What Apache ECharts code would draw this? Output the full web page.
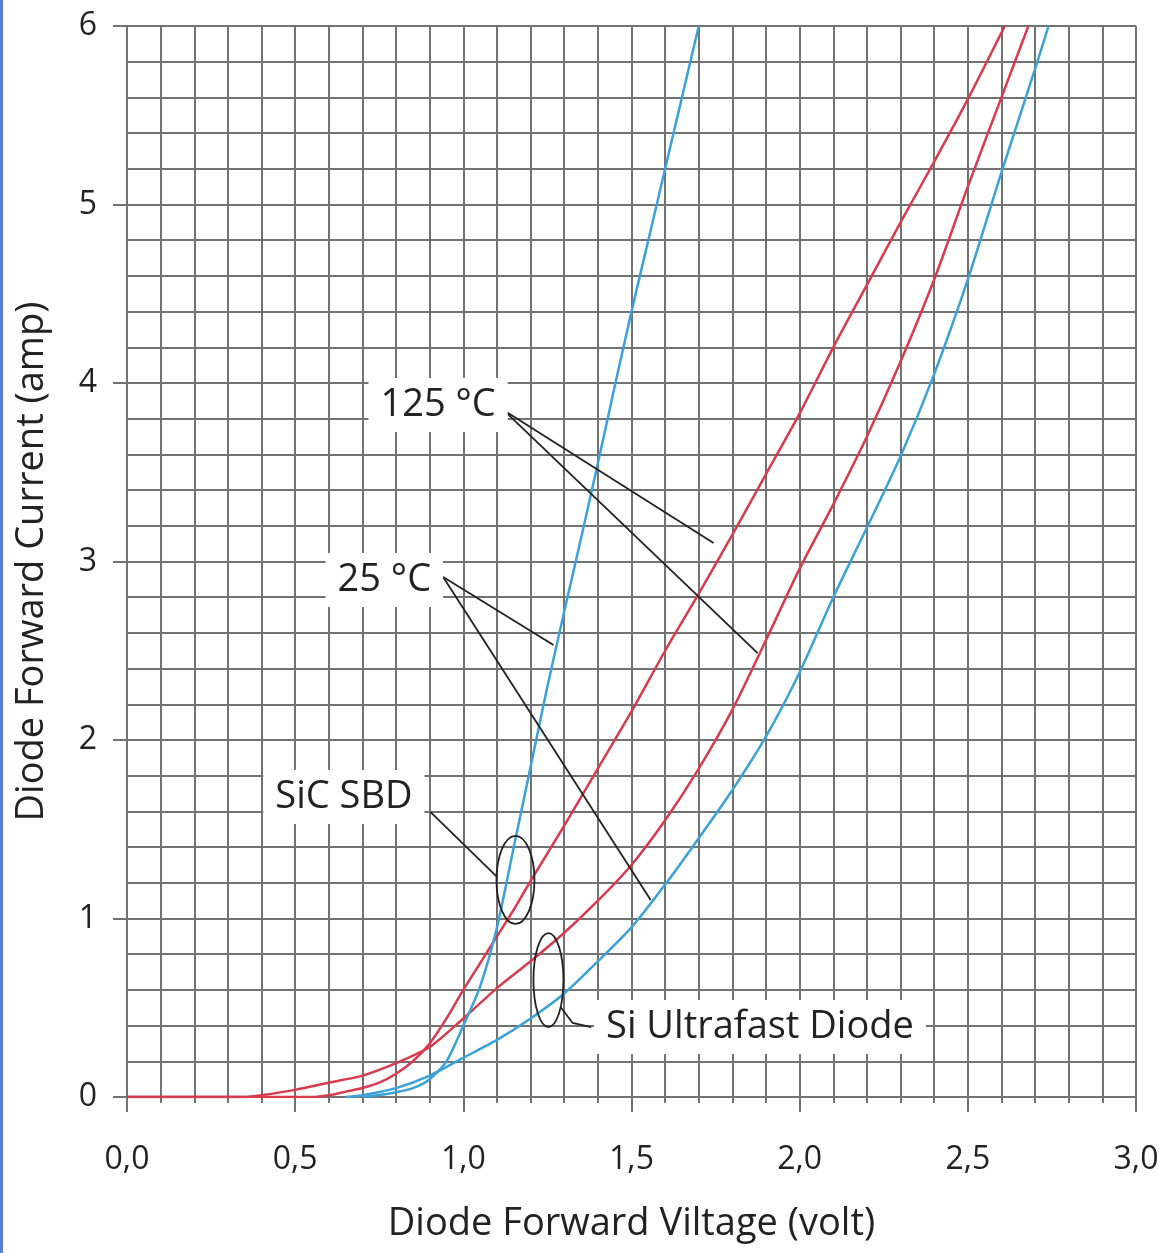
<!DOCTYPE html>
<html>
<head>
<meta charset="utf-8">
<script src="https://cdn.jsdelivr.net/npm/echarts@6/dist/echarts.min.js"></script>
<style>
  html, body { margin: 0; padding: 0; background: #fff; }
  #box { width: 1171px; height: 1253px; }
</style>
</head>
<body>
<div id="box"></div>
<script>
// SiC SBD, 25 °C (blue)
var sic25V = [0.70, 0.78, 0.85, 0.90, 0.95, 1.00, 1.05, 1.10, 1.15, 1.20, 1.25, 1.30, 1.35, 1.40, 1.45, 1.50, 1.55, 1.60, 1.65, 1.70];
var sic25I = [0, 0.02, 0.05, 0.10, 0.20, 0.40, 0.62, 0.95, 1.40, 1.85, 2.30, 2.72, 3.13, 3.55, 3.98, 4.40, 4.80, 5.20, 5.60, 6.0];
// SiC SBD, 125 °C (red)
var sic125V = [0, 0.55, 0.60, 0.65, 0.70, 0.75, 0.80, 0.85, 0.90, 0.95, 1.00, 1.05, 1.10, 1.15, 1.20, 1.30, 1.40, 1.50, 1.60, 1.70, 1.80, 1.90, 2.00, 2.10, 2.20, 2.30, 2.40, 2.50, 2.61];
var sic125I = [0, 0, 0.01, 0.03, 0.05, 0.08, 0.13, 0.20, 0.30, 0.44, 0.60, 0.75, 0.90, 1.05, 1.21, 1.52, 1.84, 2.16, 2.50, 2.82, 3.15, 3.49, 3.83, 4.20, 4.55, 4.90, 5.24, 5.59, 6.0];
// Si ultrafast, 125 °C (red)
var si125V = [0, 0.35, 0.40, 0.50, 0.60, 0.70, 0.80, 0.90, 1.00, 1.10, 1.20, 1.30, 1.40, 1.50, 1.60, 1.70, 1.80, 1.90, 2.00, 2.10, 2.20, 2.30, 2.40, 2.50, 2.60, 2.68];
var si125I = [0, 0, 0.01, 0.04, 0.08, 0.12, 0.19, 0.28, 0.44, 0.61, 0.76, 0.92, 1.10, 1.30, 1.55, 1.84, 2.17, 2.56, 2.96, 3.32, 3.70, 4.12, 4.58, 5.10, 5.60, 6.0];
// Si ultrafast, 25 °C (blue)
var si25V = [0.65, 0.70, 0.80, 0.90, 1.00, 1.10, 1.20, 1.30, 1.40, 1.50, 1.60, 1.70, 1.80, 1.90, 2.00, 2.10, 2.20, 2.30, 2.40, 2.50, 2.60, 2.70, 2.74];
var si25I = [0, 0.01, 0.05, 0.12, 0.22, 0.32, 0.44, 0.58, 0.76, 0.95, 1.19, 1.45, 1.72, 2.02, 2.38, 2.80, 3.19, 3.59, 4.05, 4.58, 5.18, 5.76, 6.0];

// annotation texts and where they sit (in volt / amp)
var labelTexts = ['125 °C', '25 °C', 'SiC SBD', 'Si Ultrafast Diode'];
var labelAt = [[0.925, 3.877], [0.765, 2.896], [0.645, 1.68], [1.882, 0.392]];
// leader lines
var leaders = [
  [[1.119, 3.849], [1.744, 3.104]],
  [[1.119, 3.849], [1.875, 2.487]],
  [[0.940, 2.913], [1.268, 2.532]],
  [[0.940, 2.913], [1.557, 1.104]],
  [[0.902, 1.597], [1.101, 1.232]],
  [[1.289, 0.504], [1.325, 0.415], [1.380, 0.392]]
];
// ellipse centres
var ringAt = [[1.155, 1.216], [1.253, 0.655]];

function pairs(xs, ys) {
  var out = [];
  for (var i = 0; i < xs.length; i++) out.push([xs[i], ys[i]]);
  return out;
}

var RED = '#d83a4e';
var BLUE = '#3aa2d8';
var GRID = '#727272';
var FONT = 'Open Sans';
var INK = '#222';

function curve(name, xs, ys, color) {
  return {
    name: name,
    type: 'line',
    data: pairs(xs, ys),
    symbol: 'none',
    smooth: 0.25,
    lineStyle: { color: color, width: 2.5 },
    z: 3
  };
}

var labelData = [];
for (var i = 0; i < labelTexts.length; i++) {
  labelData.push({ name: labelTexts[i], value: labelAt[i] });
}

var myChart = echarts.init(document.getElementById('box'));
var option = {
  backgroundColor: '#fff',
  animation: false,
  grid: { left: 127, right: 35, top: 26, bottom: 156, outerBoundsMode: 'none', containLabel: false },
  xAxis: {
    type: 'value',
    min: 0, max: 3, interval: 0.5,
    name: 'Diode Forward Viltage (volt)',
    nameLocation: 'middle',
    nameGap: 108,
    nameMoveOverlap: false,
    nameTextStyle: { fontFamily: FONT, fontSize: 38, color: INK },
    axisLine: { show: true, lineStyle: { color: GRID, width: 2 } },
    axisTick: { show: true, length: 15, lineStyle: { color: GRID, width: 2 } },
    minorTick: { show: true, splitNumber: 5, length: 6, lineStyle: { color: GRID, width: 2 } },
    axisLabel: {
      margin: 47, fontFamily: FONT, fontSize: 32, color: INK,
      formatter: function (v) { return v.toFixed(1).replace('.', ','); }
    },
    splitLine: { show: true, lineStyle: { color: GRID, width: 2 } },
    minorSplitLine: { show: true, lineStyle: { color: GRID, width: 2 } }
  },
  yAxis: {
    type: 'value',
    min: 0, max: 6, interval: 1,
    name: 'Diode Forward Current (amp)',
    nameLocation: 'middle',
    nameGap: 76,
    nameMoveOverlap: false,
    nameTextStyle: { fontFamily: FONT, fontSize: 38, color: INK },
    axisLine: { show: true, lineStyle: { color: GRID, width: 2 } },
    axisTick: { show: true, length: 14, lineStyle: { color: GRID, width: 2 } },
    minorTick: { show: false, splitNumber: 5 },
    axisLabel: { margin: 30, fontFamily: FONT, fontSize: 32, color: INK },
    splitLine: { show: true, lineStyle: { color: GRID, width: 2 } },
    minorSplitLine: { show: true, lineStyle: { color: GRID, width: 2 } }
  },
  series: [
    curve('SiC SBD 125 °C', sic125V, sic125I, RED),
    curve('Si 125 °C', si125V, si125I, RED),
    curve('SiC SBD 25 °C', sic25V, sic25I, BLUE),
    curve('Si 25 °C', si25V, si25I, BLUE),
    {
      type: 'lines',
      coordinateSystem: 'cartesian2d',
      polyline: true,
      silent: true,
      data: leaders.map(function (c) { return { coords: c }; }),
      lineStyle: { color: '#222', width: 1.8, opacity: 1 },
      z: 4
    },
    {
      type: 'scatter',
      data: labelData,
      symbolSize: 2,
      itemStyle: { color: 'rgba(0,0,0,0)' },
      silent: true,
      label: {
        show: true,
        position: 'inside',
        formatter: '{b}',
        fontFamily: FONT,
        fontSize: 38,
        color: INK,
        opacity: 1,
        backgroundColor: '#fff',
        padding: [9, 12, 7, 12]
      },
      z: 5
    }
  ]
};
myChart.setOption(option);

// ellipses round the curve pairs
var rings = [];
var radii = [[19, 44], [15, 47]];
for (var k = 0; k < ringAt.length; k++) {
  var p = myChart.convertToPixel({ gridIndex: 0 }, ringAt[k]);
  rings.push({
    type: 'ellipse',
    shape: { cx: p[0], cy: p[1], rx: radii[k][0], ry: radii[k][1] },
    style: { fill: 'none', stroke: '#222', lineWidth: 1.8 },
    z: 10
  });
}
rings.push({
  type: 'rect',
  shape: { x: 0, y: 0, width: 3, height: 1253 },
  style: { fill: '#5a7dd4' },
  z: 10
});
myChart.setOption({ graphic: rings });
</script>
</body>
</html>
